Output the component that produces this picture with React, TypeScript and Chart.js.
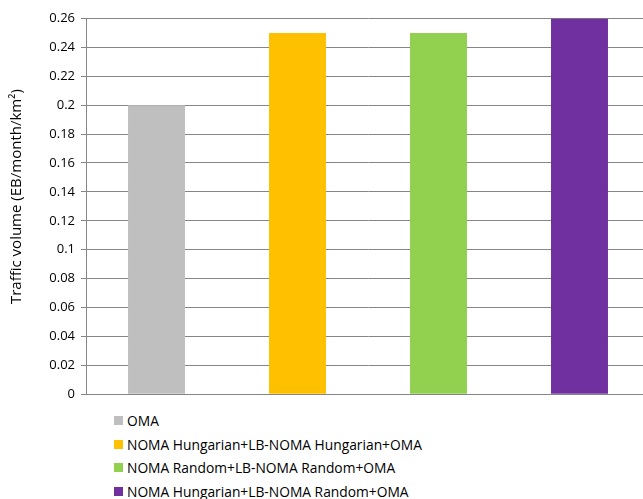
import React, { useEffect, useRef } from "react";
import { Chart, registerables } from "chart.js";

Chart.register(...registerables);

const categories: string[] = [""];
const seriesNames: string[] = [
  "OMA",
  "NOMA Hungarian+LB-NOMA Hungarian+OMA",
  "NOMA Random+LB-NOMA Random+OMA",
  "NOMA Hungarian+LB-NOMA Random+OMA",
];
const seriesValues: number[] = [0.2, 0.25, 0.25, 0.26];
const seriesColors: string[] = ["#BFBFBF", "#FFC000", "#92D050", "#7030A0"];
const yMin = 0;
const yMax = 0.26;
const yStep = 0.02;
const yTitle = "Traffic volume (EB/month/km²)";

const FONT = "'Open Sans', Lato, sans-serif";
const GRID = "#868686";

export default function App() {
  const ref = useRef<HTMLCanvasElement | null>(null);

  useEffect(() => {
    document.body.style.margin = "0";
    document.body.style.overflow = "hidden";
    const canvas = ref.current;
    if (!canvas) return;
    const chart = new Chart(canvas, {
      type: "bar",
      data: {
        labels: categories,
        datasets: seriesNames.map((name, i) => ({
          label: name,
          data: [seriesValues[i]],
          backgroundColor: seriesColors[i],
          borderWidth: 0,
          categoryPercentage: 1,
          barPercentage: 0.404,
        })),
      },
      options: {
        animation: false,
        responsive: false,
        maintainAspectRatio: false,
        layout: { padding: { left: 0, right: 0, top: 18.5, bottom: 0 } },
        plugins: {
          legend: { display: false },
          tooltip: { enabled: false },
        },
        scales: {
          x: {
            grid: { display: false },
            ticks: { display: false },
            border: { display: true, color: GRID },
            afterFit: (s: any) => {
              s.height = 0;
            },
          },
          y: {
            min: yMin,
            max: yMax,
            ticks: {
              stepSize: yStep,
              color: "#000",
              padding: 6,
              font: { family: FONT, size: 13 },
              callback: (v: any) => String(parseFloat(Number(v).toFixed(2))),
            },
            grid: { color: GRID, tickLength: 5, drawTicks: true },
            border: { display: true, color: GRID },
            title: {
              display: true,
              text: "\u00A0\u00A0\u00A0\u00A0\u00A0" + yTitle,
              color: "#000",
              font: { family: FONT, size: 15 },
              padding: { top: 8, bottom: 0 },
            },
            afterFit: (s: any) => {
              s.width = 86;
            },
          },
        },
      },
    });
    return () => chart.destroy();
  }, []);

  return (
    <div style={{ position: "relative", width: 643, height: 499, overflow: "hidden" }}>
      <canvas ref={ref} width={650} height={408} style={{ position: "absolute", left: 0, top: 0, width: 650, height: 408 }} />
      <div style={{ position: "absolute", left: 114, top: 409, fontFamily: FONT, fontSize: 13.8, color: "#000" }}>
        {seriesNames.map((name, i) => (
          <div key={name} style={{ display: "flex", alignItems: "center", height: 23.5, whiteSpace: "nowrap" }}>
            <span style={{ display: "inline-block", width: 9, height: 9, background: seriesColors[i], marginRight: 4 }} />
            <span>{name}</span>
          </div>
        ))}
      </div>
    </div>
  );
}
